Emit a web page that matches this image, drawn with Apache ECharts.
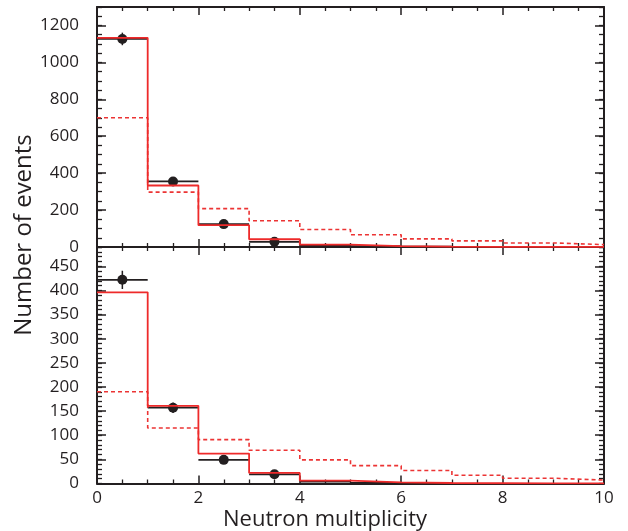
<!DOCTYPE html>
<html><head><meta charset="utf-8">
<script src="https://cdn.jsdelivr.net/npm/echarts@6/dist/echarts.min.js"></script>
<style>html,body{margin:0;padding:0;background:#fff}#c{width:628px;height:531px}</style>
</head><body><div id="c"></div>
<script>
// ---- data (bins of width 1, lower edges) ----
const binLow = [0, 1, 2, 3, 4, 5, 6, 7, 8, 9];
// top panel
const topDataVal = [1127, 355, 124, 28];
const topDataErr = [34, 19, 11, 6];
const topDataTail = [9, 4, 2, 1, 1, 0];          // bins 4..9 (no visible markers)
const topSolid = [1133, 333, 118, 42, 13, 5, 2, 1, 0.5, 0.3];
const topDashed = [700, 297, 208, 142, 95, 66, 44, 33, 22, 13];
// bottom panel
const botDataVal = [422, 157, 49, 19];
const botDataErr = [19, 11, 6, 4];
const botDataTail = [4, 1];                      // bins 4..5
const botSolid = [396, 161, 62, 22, 6, 2.5, 1, 0.5, 0.3, 0.2];
const botDashed = [190, 115, 91, 69, 49, 37, 27, 17, 11, 7];
// tick labels
const xTickLabels = [0, 2, 4, 6, 8, 10];
const topYTickLabels = [0, 200, 400, 600, 800, 1000, 1200];
const botYTickLabels = [0, 50, 100, 150, 200, 250, 300, 350, 400, 450];

const INK = '#231f20';
const FONT = 'Open Sans';

function stepData(vals) {
  const d = vals.map((v, i) => [binLow[i], v]);
  d.push([binLow[vals.length - 1] + 1, vals[vals.length - 1]]);
  return d;
}
function pointData(vals, errs, tail) {
  const d = vals.map((v, i) => [binLow[i], v, errs[i], 1]);
  tail.forEach((v, j) => d.push([binLow[vals.length + j], v, 0, 0]));
  return d;
}
function renderPts(params, api) {
  const x0 = api.value(0), y = api.value(1), e = api.value(2), mk = api.value(3);
  const pL = api.coord([x0, y]), pR = api.coord([x0 + 1, y]);
  const pc = api.coord([x0 + 0.5, y]);
  const children = [{ type: 'line', shape: { x1: pL[0], y1: pL[1], x2: pR[0], y2: pR[1] },
    style: { stroke: INK, lineWidth: 1.8 } }];
  if (mk) {
    const pT = api.coord([x0 + 0.5, y + e]), pB = api.coord([x0 + 0.5, y - e]);
    children.push({ type: 'line', shape: { x1: pc[0], y1: pT[1], x2: pc[0], y2: pB[1] },
      style: { stroke: INK, lineWidth: 1.5 } });
    children.push({ type: 'circle', shape: { cx: pc[0], cy: pc[1], r: 5 }, style: { fill: INK } });
  }
  return { type: 'group', children };
}

const lineStyleAx = { color: INK, width: 2 };
function xAx(gridIndex, pos, showLabel) {
  return {
    type: 'value', gridIndex, position: pos, min: 0, max: 10, interval: 2,
    axisLine: { show: true, onZero: false, lineStyle: lineStyleAx },
    axisTick: { show: true, inside: true, length: 8, lineStyle: { color: INK, width: 1.5 } },
    minorTick: { show: true, splitNumber: 4, length: 4, lineStyle: { color: INK, width: 1.3 } },
    axisLabel: { show: showLabel, margin: 6, color: INK, fontFamily: FONT, fontSize: 17,
      formatter: v => xTickLabels.includes(v) ? String(v) : '' },
    splitLine: { show: false }, minorSplitLine: { show: false }
  };
}
function yMajor(gridIndex, pos, max, interval, labels, showLabel) {
  return {
    type: 'value', gridIndex, position: pos, min: 0, max, interval,
    axisLine: { show: true, onZero: false, lineStyle: lineStyleAx },
    axisTick: { show: true, inside: true, length: 9, lineStyle: { color: INK, width: 1.5 } },
    axisLabel: { show: showLabel, margin: 18, color: INK, fontFamily: FONT, fontSize: 17,
      formatter: v => labels.includes(v) ? String(v) : '' },
    splitLine: { show: false }
  };
}
function yMinor(gridIndex, pos, max, interval) {
  return {
    type: 'value', gridIndex, position: pos, min: 0, max, interval,
    axisLine: { show: false, onZero: false },
    axisTick: { show: true, inside: true, length: 5, lineStyle: { color: INK, width: 1.3 } },
    axisLabel: { show: false }, splitLine: { show: false }
  };
}

const chart = echarts.init(document.getElementById('c'), null, { renderer: 'canvas' });
chart.setOption({
  animation: false,
  backgroundColor: '#fff',
  grid: [
    { left: 97, top: 7, width: 507, height: 240 },
    { left: 97, top: 247, width: 507, height: 236.5 }
  ],
  xAxis: [ xAx(0, 'bottom', false), xAx(0, 'top', false), xAx(1, 'bottom', true), xAx(1, 'top', false) ],
  yAxis: [
    yMajor(0, 'left', 1300, 200, topYTickLabels, true), yMinor(0, 'left', 1300, 50),
    yMajor(0, 'right', 1300, 200, topYTickLabels, false), yMinor(0, 'right', 1300, 50),
    yMajor(1, 'left', 490, 50, botYTickLabels, true), yMinor(1, 'left', 490, 10),
    yMajor(1, 'right', 490, 50, botYTickLabels, false), yMinor(1, 'right', 490, 10)
  ],
  graphic: [
    { type: 'text', x: 24, y: 235, rotation: Math.PI / 2,
      style: { text: 'Number of events', fill: INK, font: '24px "Open Sans"', align: 'center', verticalAlign: 'middle' } },
    { type: 'text', x: 325, y: 520,
      style: { text: 'Neutron multiplicity', fill: INK, font: '22px "Open Sans"', align: 'center', verticalAlign: 'middle' } }
  ],
  series: [
    { type: 'line', xAxisIndex: 0, yAxisIndex: 0, step: 'end', symbol: 'none', data: stepData(topDashed),
      lineStyle: { color: '#ec3434', width: 1.6, type: [4, 3] } },
    { type: 'line', xAxisIndex: 0, yAxisIndex: 0, step: 'end', symbol: 'none', data: stepData(topSolid),
      lineStyle: { color: '#ee2a2a', width: 1.8 } },
    { type: 'custom', xAxisIndex: 0, yAxisIndex: 0, renderItem: renderPts, clip: true,
      data: pointData(topDataVal, topDataErr, topDataTail) },
    { type: 'line', xAxisIndex: 2, yAxisIndex: 4, step: 'end', symbol: 'none', data: stepData(botDashed),
      lineStyle: { color: '#ec3434', width: 1.6, type: [4, 3] } },
    { type: 'line', xAxisIndex: 2, yAxisIndex: 4, step: 'end', symbol: 'none', data: stepData(botSolid),
      lineStyle: { color: '#ee2a2a', width: 1.8 } },
    { type: 'custom', xAxisIndex: 2, yAxisIndex: 4, renderItem: renderPts, clip: true,
      data: pointData(botDataVal, botDataErr, botDataTail) }
  ]
});
</script></body></html>
